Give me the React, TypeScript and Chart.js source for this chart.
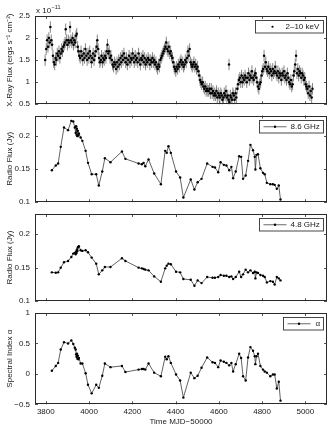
import React, { useEffect, useRef } from "react";
import { Chart, registerables } from "chart.js";
Chart.register(...registerables);

// ---------------- data ----------------
const xrayDays = [
  3797, 3802, 3806, 3810, 3814, 3818, 3821, 3825, 3829, 3833,
  3837, 3841, 3845, 3849, 3853, 3857, 3861, 3865, 3869, 3873,
  3877, 3881, 3885, 3889, 3892, 3896, 3900, 3904, 3908, 3912,
  3916, 3920, 3924, 3928, 3932, 3936, 3940, 3943, 3947, 3951,
  3955, 3959, 3963, 3967, 3971, 3975, 3979, 3983, 3987, 3991,
  3995, 3999, 4003, 4007, 4011, 4015, 4019, 4023, 4027, 4031,
  4035, 4038, 4042, 4046, 4050, 4054, 4058, 4062, 4066, 4070,
  4074, 4078, 4082, 4085, 4089, 4093, 4097, 4101, 4105, 4109,
  4113, 4117, 4121, 4125, 4129, 4133, 4137, 4141, 4145, 4149,
  4153, 4157, 4161, 4165, 4169, 4173, 4177, 4181, 4185, 4189,
  4193, 4197, 4201, 4205, 4209, 4213, 4217, 4221, 4225, 4229,
  4233, 4237, 4241, 4245, 4249, 4253, 4257, 4261, 4265, 4269,
  4273, 4277, 4281, 4285, 4289, 4293, 4297, 4301, 4305, 4309,
  4313, 4317, 4321, 4325, 4329, 4333, 4337, 4341, 4345, 4349,
  4353, 4357, 4361, 4365, 4369, 4373, 4377, 4381, 4385, 4389,
  4393, 4397, 4401, 4405, 4409, 4413, 4417, 4421, 4425, 4429,
  4433, 4437, 4441, 4445, 4449, 4453, 4457, 4461, 4465, 4469,
  4473, 4477, 4481, 4485, 4489, 4493, 4497, 4501, 4505, 4509,
  4513, 4517, 4521, 4525, 4529, 4533, 4537, 4541, 4545, 4549,
  4553, 4557, 4561, 4565, 4569, 4573, 4577, 4581, 4585, 4589,
  4593, 4597, 4601, 4605, 4609, 4613, 4617, 4621, 4625, 4629,
  4633, 4637, 4641, 4645, 4647, 4649, 4653, 4657, 4661, 4665,
  4669, 4673, 4677, 4681, 4685, 4689, 4693, 4697, 4701, 4705,
  4709, 4713, 4717, 4721, 4725, 4729, 4733, 4737, 4741, 4745,
  4749, 4753, 4757, 4761, 4765, 4769, 4773, 4777, 4781, 4785,
  4789, 4793, 4797, 4801, 4805, 4809, 4813, 4817, 4821, 4825,
  4829, 4833, 4837, 4841, 4845, 4849, 4853, 4857, 4861, 4865,
  4869, 4873, 4877, 4881, 4885, 4889, 4893, 4897, 4901, 4905,
  4909, 4913, 4917, 4921, 4925, 4929, 4933, 4937, 4941, 4945,
  4949, 4953, 4957, 4961, 4965, 4969, 4973, 4977, 4981, 4985,
  4989, 4993, 4997, 5001, 5005, 5009, 5013, 5017, 5021, 5025,
  5029, 5033,
];
// X-ray flux in units of 1e-11 erg s^-1 cm^-2
const xrayFlux = [
  1.5, 1.75, 1.95, 1.8, 2.0, 1.9, 2.25, 1.95, 1.85, 1.6,
  1.45, 1.4, 1.55, 1.5, 1.65, 1.6, 1.7, 1.55, 1.65, 1.75,
  1.7, 1.8, 1.85, 1.9, 2.2, 1.95, 1.85, 1.95, 1.9, 2.25,
  1.95, 1.9, 2.0, 1.85, 1.95, 1.9, 2.05, 2.1, 1.8, 1.7,
  1.6, 1.55, 1.7, 1.6, 1.5, 1.65, 1.55, 1.75, 1.6, 1.5,
  1.65, 1.55, 1.7, 1.6, 1.45, 1.55, 1.65, 1.5, 1.6, 1.7,
  1.8, 1.95, 1.75, 1.55, 1.45, 1.5, 1.6, 1.45, 1.55, 1.5,
  1.6, 1.55, 1.7, 1.85, 1.65, 1.7, 1.55, 1.6, 1.5, 1.4,
  1.35, 1.45, 1.4, 1.3, 1.45, 1.35, 1.5, 1.4, 1.55, 1.45,
  1.6, 1.5, 1.65, 1.55, 1.45, 1.55, 1.4, 1.5, 1.6, 1.45,
  1.55, 1.5, 1.65, 1.55, 1.45, 1.6, 1.5, 1.55, 1.45, 1.65,
  1.5, 1.4, 1.55, 1.5, 1.6, 1.45, 1.55, 1.4, 1.5, 1.45,
  1.55, 1.5, 1.4, 1.5, 1.45, 1.55, 1.45, 1.5, 1.4, 1.45,
  1.35, 1.3, 1.4, 1.35, 1.5, 1.55, 1.6, 1.65, 1.7, 1.75,
  1.8, 1.9, 1.75, 1.7, 1.8, 1.65, 1.7, 1.6, 1.55, 1.45,
  1.35, 1.3, 1.25, 1.35, 1.3, 1.4, 1.35, 1.45, 1.5, 1.4,
  1.45, 1.35, 1.4, 1.5, 1.45, 1.55, 1.7, 1.6, 1.75, 1.45,
  1.4, 1.35, 1.4, 1.45, 1.35, 1.4, 1.3, 1.35, 1.25, 1.15,
  1.05, 1.0, 0.95, 1.0, 0.9, 0.85, 0.9, 0.8, 0.85, 0.8,
  0.8, 0.85, 0.75, 0.85, 0.75, 0.8, 0.7, 0.75, 0.7, 0.8,
  0.65, 0.75, 0.7, 0.65, 0.75, 0.7, 0.6, 0.65, 0.75, 0.7,
  0.8, 0.65, 0.7, 0.6, 1.4, 0.55, 0.7, 0.65, 0.6, 0.75,
  0.7, 0.6, 0.75, 0.65, 0.85, 0.95, 1.05, 1.1, 1.0, 1.15,
  1.0, 1.1, 1.05, 1.15, 1.1, 1.0, 1.1, 1.2, 1.05, 1.15,
  1.1, 1.25, 1.1, 1.05, 1.15, 1.2, 1.1, 1.0, 0.9, 0.85,
  0.95, 1.0, 1.15, 1.25, 1.3, 1.6, 1.35, 1.45, 1.3, 1.25,
  1.35, 1.2, 1.3, 1.25, 1.15, 1.3, 1.2, 1.25, 1.35, 1.2,
  1.15, 1.25, 1.1, 1.2, 1.15, 1.05, 1.2, 1.15, 1.25, 1.1,
  1.15, 1.05, 1.2, 1.1, 1.0, 0.95, 1.05, 0.9, 0.95, 1.15,
  1.25, 1.4, 1.6, 1.2, 1.3, 1.15, 1.25, 1.2, 1.1, 1.2,
  1.15, 1.05, 1.1, 0.95, 0.9, 0.85, 0.75, 0.9, 0.7, 0.8,
  0.65, 0.85,
];
const xrayErr = 0.13;

const radioDays = [
  3828, 3846, 3857, 3869, 3884, 3903, 3918, 3927, 3934, 3938,
  3940, 3942, 3944, 3946, 3948, 3950, 3953, 3961, 3969, 3984,
  3995, 4012, 4033, 4045, 4061, 4073, 4099, 4152, 4168, 4229,
  4244, 4252, 4260, 4275, 4301, 4332, 4352, 4359, 4367, 4378,
  4402, 4421, 4436, 4470, 4487, 4502, 4520, 4546, 4571, 4582,
  4597, 4608, 4623, 4635, 4648, 4658, 4666, 4678, 4694, 4703,
  4712, 4724, 4735, 4746, 4758, 4766, 4769, 4774, 4781, 4792,
  4804, 4812, 4822, 4838, 4850, 4858, 4868, 4877, 4885,
];
const flux86 = [
  0.148, 0.155, 0.158, 0.183, 0.212, 0.208, 0.222, 0.221, 0.212, 0.204,
  0.214, 0.201, 0.21, 0.199, 0.207, 0.2, 0.203, 0.197, 0.192, 0.177,
  0.159, 0.142, 0.142, 0.125, 0.146, 0.166, 0.16, 0.176, 0.165, 0.158,
  0.157, 0.159, 0.154, 0.164, 0.143, 0.127, 0.177, 0.174, 0.184, 0.174,
  0.146, 0.137, 0.107, 0.134, 0.119, 0.13, 0.135, 0.158, 0.153, 0.152,
  0.145, 0.16, 0.156, 0.155, 0.148, 0.153, 0.136, 0.146, 0.169, 0.168,
  0.135, 0.14, 0.162, 0.186, 0.178, 0.168, 0.149, 0.171, 0.172, 0.151,
  0.144, 0.142, 0.129, 0.127, 0.127, 0.126, 0.12, 0.125, 0.104,
];
const flux48 = [
  0.143, 0.1425, 0.143, 0.15, 0.158, 0.16, 0.166, 0.171, 0.172, 0.17,
  0.174, 0.172, 0.177, 0.175, 0.18, 0.181, 0.182, 0.176, 0.175, 0.176,
  0.173, 0.165, 0.156, 0.14, 0.146, 0.151, 0.151, 0.164, 0.16, 0.15,
  0.149, 0.148, 0.147, 0.146, 0.137, 0.129, 0.149, 0.153, 0.156, 0.155,
  0.144, 0.143, 0.133, 0.132, 0.123, 0.131, 0.127, 0.136, 0.135, 0.135,
  0.136, 0.139, 0.138, 0.138, 0.136, 0.137, 0.133, 0.136, 0.144, 0.136,
  0.14, 0.147, 0.143, 0.146, 0.142, 0.144, 0.134, 0.143, 0.142, 0.139,
  0.138, 0.136, 0.128, 0.13, 0.129, 0.125, 0.136, 0.134, 0.131,
];
const alphaIdx = [
  0.05, 0.13, 0.18, 0.4, 0.52, 0.5, 0.55, 0.49, 0.43, 0.4,
  0.32, 0.28, 0.33, 0.25, 0.3, 0.24, 0.26, 0.17, 0.17, 0.01,
  -0.18, -0.32, -0.18, -0.23, -0.03, 0.17, 0.11, 0.13, 0.03, 0.07,
  0.08, 0.08, 0.07, 0.17, 0.02, -0.04, 0.28, 0.24, 0.29, 0.18,
  -0.01, -0.11, -0.39, 0.02, -0.07, -0.03, 0.1, 0.27, 0.19, 0.18,
  0.11, 0.22, 0.2, 0.18, 0.14, 0.18, 0.04, 0.16, 0.33, 0.26,
  -0.04, -0.11, 0.27, 0.44, 0.38, 0.29, 0.16, 0.29, 0.33, 0.13,
  0.07, 0.04, 0.02, -0.04, -0.01, -0.01, -0.24, -0.13, -0.44,
];

const timeTicks = [3800, 4000, 4200, 4400, 4600, 4800, 5000];
const xrayTicks = [0.5, 1, 1.5, 2, 2.5];
const radioTicks = [0.1, 0.15, 0.2];
const alphaTicks = [-0.5, 0, 0.5, 1];
const legendLabels = ["2\u201310 keV", "8.6 GHz", "4.8 GHz", "\u03b1"];
const yTitles = [
  "X-Ray Flux (ergs s\u207b\u00b9 cm\u207b\u00b2)",
  "Radio Flux (Jy)",
  "Radio Flux (Jy)",
  "Spectral Index \u03b1",
];
const xTitle = "Time MJD\u221250000";
const expBase = "x 10";
const expPower = "\u221211";

// ---------------- layout / style ----------------
const W = 333;
const H = 429;
const TIME_MIN = 3750;
const TIME_MAX = 5100;
const PLOT_LEFT = 35;
const PLOT_RIGHT = 327;
const PANEL_TOP = [16, 115.5, 214, 313];
const PANEL_BOTTOM = [108.5, 207, 305.5, 404.3];
const Y_RANGES = [
  [0.5, 2.5],
  [0.1, 0.23],
  [0.1, 0.23],
  [-0.5, 1],
];
const LEGEND_W = [68, 64, 64, 40];
const FONT = '"Liberation Sans", Arial, Helvetica, sans-serif';
const TEXT = "#1a1a1a";
const TICK_LEN = 3;

const panelY = [xrayFlux, flux86, flux48, alphaIdx];
const panelTicks = [xrayTicks, radioTicks, radioTicks, alphaTicks];

function canvasBox(i: number) {
  const last = i === 3;
  const top = i === 0 ? 0 : Math.floor(PANEL_TOP[i] - 12);
  const bottom = last ? H : Math.ceil(PANEL_BOTTOM[i] + 5);
  return { top, bottom, height: bottom - top };
}

function fmt(v: number) {
  return String(v).replace("-", "\u2212");
}

function makePlugin(i: number) {
  return {
    id: "decor" + i,
    beforeDatasetsDraw(chart: any) {
      if (i !== 0) return;
      const { ctx, chartArea: a, scales } = chart;
      ctx.save();
      ctx.beginPath();
      ctx.rect(a.left, a.top, a.right - a.left, a.bottom - a.top);
      ctx.clip();
      ctx.strokeStyle = "#858585";
      ctx.lineWidth = 1;
      ctx.beginPath();
      xrayDays.forEach((d, k) => {
        const px = scales.x.getPixelForValue(d);
        ctx.moveTo(px, scales.y.getPixelForValue(xrayFlux[k] - xrayErr));
        ctx.lineTo(px, scales.y.getPixelForValue(xrayFlux[k] + xrayErr));
      });
      ctx.stroke();
      ctx.restore();
    },
    afterDraw(chart: any) {
      const { ctx, chartArea: a, scales } = chart;
      ctx.save();
      // inward tick marks
      ctx.strokeStyle = "#555";
      ctx.lineWidth = 1;
      ctx.beginPath();
      timeTicks.forEach((t) => {
        const px = Math.round(scales.x.getPixelForValue(t)) + 0.5;
        ctx.moveTo(px, a.bottom);
        ctx.lineTo(px, a.bottom - TICK_LEN);
        ctx.moveTo(px, a.top);
        ctx.lineTo(px, a.top + TICK_LEN);
      });
      panelTicks[i].forEach((t) => {
        const py = Math.round(scales.y.getPixelForValue(t)) + 0.5;
        ctx.moveTo(a.left, py);
        ctx.lineTo(a.left + TICK_LEN, py);
        ctx.moveTo(a.right, py);
        ctx.lineTo(a.right - TICK_LEN, py);
      });
      ctx.stroke();
      // frame
      ctx.strokeStyle = "#2a2a2a";
      ctx.lineWidth = 1;
      const l = Math.round(a.left) + 0.5;
      const t = Math.round(a.top) + 0.5;
      const r = Math.round(a.right) - 0.5;
      const b = Math.round(a.bottom) - 0.5;
      ctx.strokeRect(l, t, r - l, b - t);
      // legend
      const bw = LEGEND_W[i];
      const bh = 12.5;
      const bl = Math.round(a.right - 4 - bw) + 0.5;
      const bt = Math.round(a.top + 4) + 0.5;
      ctx.fillStyle = "#fff";
      ctx.fillRect(bl, bt, bw, bh);
      ctx.strokeStyle = "#333";
      ctx.lineWidth = 0.9;
      ctx.strokeRect(bl, bt, bw, bh);
      const my = bt + bh / 2;
      ctx.fillStyle = "#000";
      if (i === 0) {
        ctx.beginPath();
        ctx.arc(bl + 17, my, 1.1, 0, Math.PI * 2);
        ctx.fill();
      } else {
        ctx.strokeStyle = "#444";
        ctx.lineWidth = 0.8;
        ctx.beginPath();
        ctx.moveTo(bl + 4, my);
        ctx.lineTo(bl + 27, my);
        ctx.stroke();
        ctx.beginPath();
        ctx.arc(bl + 15.5, my, 1.2, 0, Math.PI * 2);
        ctx.fill();
      }
      ctx.fillStyle = TEXT;
      ctx.font = "8px " + FONT;
      ctx.textBaseline = "middle";
      ctx.textAlign = "left";
      ctx.fillText(legendLabels[i], bl + (i === 0 ? 30 : i === 3 ? 32 : 31), my + 0.5);
      // exponent label
      if (i === 0) {
        ctx.textBaseline = "alphabetic";
        ctx.font = "8px " + FONT;
        ctx.fillText(expBase, a.left + 1, a.top - 3);
        const w = ctx.measureText(expBase).width;
        ctx.font = "5.5px " + FONT;
        ctx.fillText(expPower, a.left + 1.5 + w, a.top - 7.5);
      }
      ctx.restore();
    },
  };
}

function makeConfig(i: number): any {
  const last = i === 3;
  const box = canvasBox(i);
  const padTop = PANEL_TOP[i] - box.top;
  const padBottom = last ? 0 : box.bottom - PANEL_BOTTOM[i];
  const ticks = panelTicks[i];
  const isX = i === 0;
  const days = isX ? xrayDays : radioDays;
  const ys = panelY[i];
  return {
    type: "scatter",
    data: {
      datasets: [
        {
          label: legendLabels[i],
          data: days.map((d, k) => ({ x: d, y: ys[k] })),
          showLine: !isX,
          borderColor: "#3a3a3a",
          borderWidth: 0.8,
          pointRadius: isX ? 1.25 : 1.2,
          pointBackgroundColor: "#000",
          pointBorderWidth: 0,
          pointHoverRadius: 0,
          tension: 0,
        },
      ],
    },
    options: {
      responsive: false,
      animation: false,
      devicePixelRatio: 1,
      events: [],
      layout: {
        autoPadding: false,
        padding: { top: padTop, bottom: padBottom, left: 0, right: W - PLOT_RIGHT },
      },
      plugins: { legend: { display: false }, tooltip: { enabled: false } },
      scales: {
        x: {
          type: "linear",
          min: TIME_MIN,
          max: TIME_MAX,
          display: last,
          grid: { display: false, drawTicks: false },
          border: { display: false },
          afterBuildTicks: (s: any) => {
            s.ticks = timeTicks.map((v) => ({ value: v }));
          },
          afterFit: (s: any) => {
            if (last) s.height = H - PANEL_BOTTOM[3];
          },
          ticks: {
            padding: 3,
            color: TEXT,
            font: { family: FONT, size: 8 },
            maxRotation: 0,
            callback: (v: number) => fmt(v),
          },
          title: {
            display: last,
            text: xTitle,
            color: TEXT,
            font: { family: FONT, size: 8 },
            padding: { top: 0, bottom: 2 },
          },
        },
        y: {
          type: "linear",
          min: Y_RANGES[i][0],
          max: Y_RANGES[i][1],
          grid: { display: false, drawTicks: false },
          border: { display: false },
          afterBuildTicks: (s: any) => {
            s.ticks = ticks.map((v) => ({ value: v }));
          },
          afterFit: (s: any) => {
            s.width = PLOT_LEFT;
          },
          ticks: {
            padding: 5,
            color: TEXT,
            font: { family: FONT, size: 8 },
            callback: (v: number) => fmt(v),
          },
          title: {
            display: true,
            text: yTitles[i],
            color: TEXT,
            font: { family: FONT, size: 8 },
            padding: { top: 5, bottom: 0 },
          },
        },
      },
    },
    plugins: [makePlugin(i)],
  };
}

export default function App() {
  const refs = useRef<(HTMLCanvasElement | null)[]>([]);
  useEffect(() => {
    const charts: Chart[] = [];
    for (let i = 0; i < 4; i++) {
      const c = refs.current[i];
      if (c) charts.push(new Chart(c, makeConfig(i)));
    }
    return () => charts.forEach((c) => c.destroy());
  }, []);
  return (
    <div
      style={{
        position: "absolute",
        left: 0,
        top: 0,
        width: W,
        height: H,
        background: "#fff",
        overflow: "hidden",
      }}
    >
      {[0, 1, 2, 3].map((i) => {
        const b = canvasBox(i);
        return (
          <canvas
            key={i}
            ref={(el) => {
              refs.current[i] = el;
            }}
            width={W}
            height={b.height}
            style={{ position: "absolute", left: 0, top: b.top, width: W, height: b.height }}
          />
        );
      })}
    </div>
  );
}
